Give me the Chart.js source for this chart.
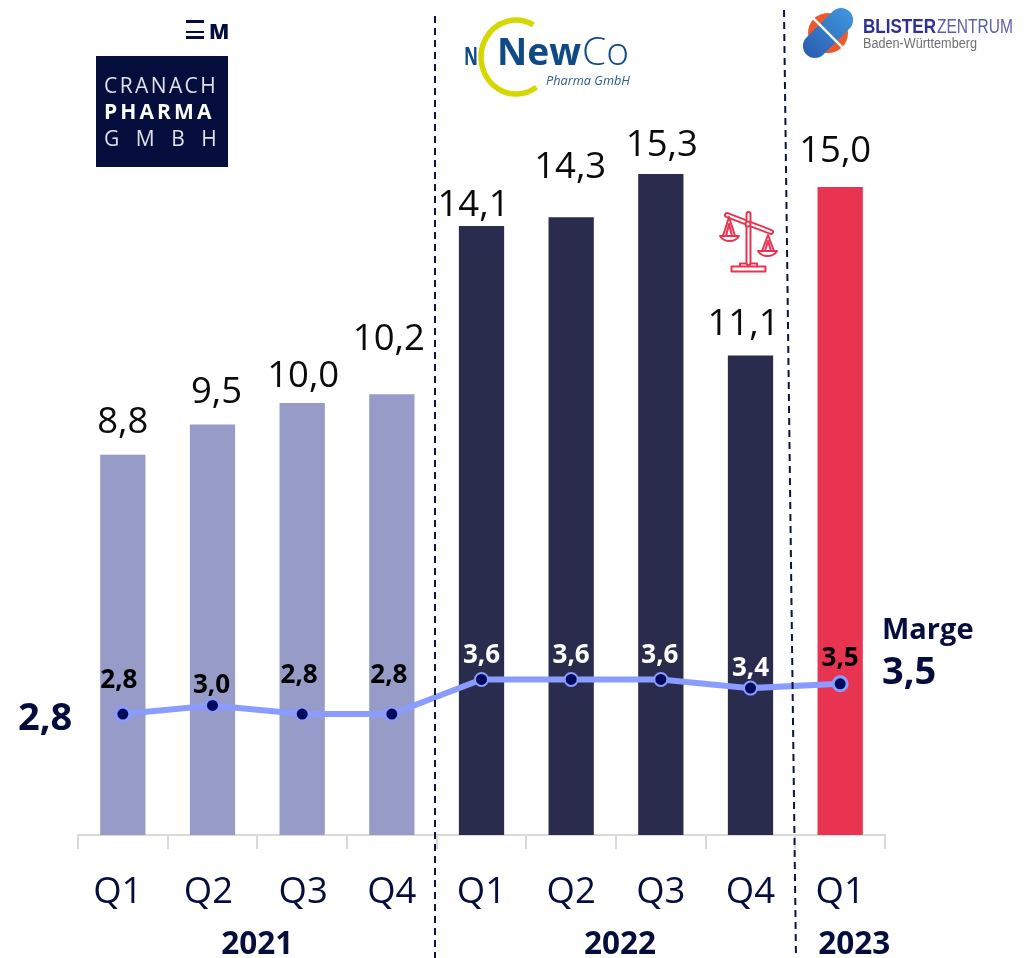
<!DOCTYPE html>
<html>
<head>
<meta charset="utf-8">
<style>html,body{margin:0;padding:0;background:#fff}canvas{display:block}</style>
<script src="https://cdn.jsdelivr.net/npm/chart.js@4"></script>
</head>
<body>
<canvas id="c" width="1025" height="958"></canvas>
<script>
const quarters = ['Q1','Q2','Q3','Q4','Q1','Q2','Q3','Q4','Q1'];
const revenue = [8.8,9.5,10.0,10.2,14.1,14.3,15.3,11.1,15.0];
const margin = [2.8,3.0,2.8,2.8,3.6,3.6,3.6,3.4,3.5];
const years = ['2021','2022','2023'];
const yearSpans = [[0,3],[4,7],[8,8]];

const NAVY='#050d3c', LIGHT='#969bc8', DARK='#2a2c4e', RED='#e83351', LINE='#8a9cff', DOT='#000a5c';
const barColors = [LIGHT,LIGHT,LIGHT,LIGHT,DARK,DARK,DARK,DARK,RED];
const marginLabelColors = ['#000','#000','#000','#000','#fff','#fff','#fff','#fff','#000'];
// label nudges in pixels relative to the scale position
const barNudge = [[0,-22],[4,-22],[1,-16],[-3,-44],[-8,-10],[-1,-39],[1,-18],[-7,-20],[-5,-25]];
const marginNudge = [[-4,-26],[-1,-12],[-3,-31],[-3,-31],[0,-16],[0,-16],[-1,-16],[0,-12],[0,-18]];
const tickNudge = [-5,-4,1,0,0,0,0,0,0];
const yearNudge = [0,4,14];

const fmt = v => v.toFixed(1).replace('.',',');
const OS = '"Open Sans"';

function text(ctx,s,x,y,font,color,align,spacing,maxW){
  ctx.font=font;ctx.fillStyle=color;ctx.textAlign=align||'center';ctx.textBaseline='alphabetic';
  ctx.letterSpacing=spacing||'0px';
  if(maxW)ctx.fillText(s,x,y,maxW);else ctx.fillText(s,x,y);
  ctx.letterSpacing='0px';
}
function dashed(ctx,x1,y1,x2,y2){
  ctx.save();ctx.strokeStyle='#0b1340';ctx.lineWidth=2;ctx.setLineDash([7,5]);
  ctx.beginPath();ctx.moveTo(x1,y1);ctx.lineTo(x2,y2);ctx.stroke();ctx.restore();
}
function drawCranach(ctx){
  ctx.fillStyle=NAVY;
  ctx.fillRect(186,20,18,3);ctx.fillRect(186,31,18,2);ctx.fillRect(186,36,18,3);
  text(ctx,'M',209,39,'800 21px '+OS,NAVY,'left');
  ctx.fillStyle=NAVY;ctx.fillRect(96,56,132,111);
  text(ctx,'CRANACH',104,93,'21px '+OS,'#dfe0e8','left','2.4px');
  text(ctx,'PHARMA',104,119,'bold 21px '+OS,'#ffffff','left','3.1px');
  text(ctx,'GMBH',104,146,'21px '+OS,'#dfe0e8','left','16.5px');
}
function drawNewCo(ctx){
  text(ctx,'N',464,65,'bold 25px '+OS,'#0f4a86','left','0px',14);
  ctx.strokeStyle='#d4d800';ctx.lineWidth=5.5;
  ctx.beginPath();ctx.ellipse(516,57,35,37,0,-1.05,0.95,true);ctx.stroke();
  text(ctx,'New',497,65,'bold 38px '+OS,'#0f4a86','left','0px',84);
  text(ctx,'Co',582,65,'300 39px '+OS,'#0f4a86','left','0px',47);
  text(ctx,'Pharma GmbH',546,85,'italic 13px '+OS,'#2f5f8f','left','0px',84);
}
function drawBlister(ctx){
  ctx.save();ctx.translate(828,33);
  ctx.fillStyle='#ea5a2a';ctx.beginPath();ctx.arc(0,0,20,0,Math.PI*2);ctx.fill();
  ctx.rotate(-Math.PI/4);
  const g=ctx.createLinearGradient(-30,0,30,0);g.addColorStop(0,'#2b5fb0');g.addColorStop(1,'#3f93dc');
  ctx.fillStyle=g;ctx.beginPath();ctx.roundRect(-30.5,-12,61,24,12);ctx.fill();
  ctx.fillStyle='#fff';ctx.fillRect(-1.2,-22,2.4,44);
  ctx.restore();
  text(ctx,'BLISTER',863,33,'bold 19.5px "Liberation Sans"','#2e3192','left','0px',73);
  text(ctx,'ZENTRUM',937,33,'19.5px "Liberation Sans"','#5a5fa8','left','0px',76);
  text(ctx,'Baden-Württemberg',863,48,'14px "Liberation Sans"','#707070','left','0px',114);
}
function drawScales(ctx){
  ctx.save();ctx.strokeStyle=RED;ctx.lineWidth=2;ctx.lineJoin='round';
  ctx.strokeRect(731.5,266.5,34,5);
  ctx.beginPath();ctx.moveTo(740,266);ctx.lineTo(740,263.5);ctx.lineTo(757,263.5);ctx.lineTo(757,266);ctx.stroke();
  ctx.lineCap='round';
  ctx.lineWidth=6;ctx.beginPath();ctx.moveTo(727,215);ctx.lineTo(771,232);ctx.moveTo(748.5,214);ctx.lineTo(748.5,263);ctx.stroke();
  ctx.strokeStyle='#fff';ctx.lineWidth=2;ctx.beginPath();ctx.moveTo(727,215);ctx.lineTo(771,232);ctx.moveTo(748.5,214);ctx.lineTo(748.5,263);ctx.stroke();
  ctx.strokeStyle=RED;ctx.lineWidth=2;ctx.fillStyle='#fff';
  ctx.beginPath();ctx.arc(748,224,2.5,0,Math.PI*2);ctx.fill();ctx.stroke();
  ctx.lineCap='butt';
  ctx.beginPath();ctx.moveTo(723,236);ctx.lineTo(729,217);ctx.lineTo(735,236);ctx.moveTo(726,236);ctx.lineTo(729,224);ctx.lineTo(732,236);ctx.stroke();
  ctx.beginPath();ctx.moveTo(720,236);ctx.lineTo(739,236);ctx.quadraticCurveTo(736,241,729.5,241);ctx.quadraticCurveTo(723,241,720,236);ctx.closePath();ctx.stroke();
  ctx.beginPath();ctx.moveTo(762,251);ctx.lineTo(768,235);ctx.lineTo(774,251);ctx.moveTo(765,251);ctx.lineTo(768,241);ctx.lineTo(771,251);ctx.stroke();
  ctx.beginPath();ctx.moveTo(758,251);ctx.lineTo(777,251);ctx.quadraticCurveTo(774,256,767.5,256);ctx.quadraticCurveTo(761,256,758,251);ctx.closePath();ctx.stroke();
  ctx.restore();
}
const overlay = {
  id:'overlay',
  afterDatasetsDraw(chart){
    const ctx=chart.ctx, x=chart.scales.x, y=chart.scales.y;
    ctx.save();
    revenue.forEach((v,i)=>text(ctx,fmt(v),x.getPixelForValue(i)+barNudge[i][0],y.getPixelForValue(v)+barNudge[i][1],'36.5px '+OS,'#0a0a0a'));
    margin.forEach((v,i)=>text(ctx,fmt(v),x.getPixelForValue(i)+marginNudge[i][0],y.getPixelForValue(v)+marginNudge[i][1],'bold 26px '+OS,marginLabelColors[i]));
    quarters.forEach((q,i)=>text(ctx,q,x.getPixelForValue(i)+tickNudge[i],903,'36.5px '+OS,NAVY));
    years.forEach((t,i)=>{
      const cx=(x.getPixelForValue(yearSpans[i][0])+x.getPixelForValue(yearSpans[i][1]))/2;
      text(ctx,t,cx+yearNudge[i],954,'bold 31.5px '+OS,NAVY);
    });
    text(ctx,'2,8',18,730,'bold 38px '+OS,NAVY,'left');
    text(ctx,'Marge',882,639,'bold 29px '+OS,NAVY,'left');
    text(ctx,'3,5',882,684,'bold 38px '+OS,NAVY,'left');
    dashed(ctx,435,16,435,958);
    dashed(ctx,784,10,796,958);
    drawCranach(ctx);drawNewCo(ctx);drawBlister(ctx);drawScales(ctx);
    ctx.restore();
  }
};
new Chart(document.getElementById('c'),{
  data:{labels:quarters.map((q,i)=>q+' '+i),datasets:[
    {type:'line',data:margin,order:0,borderColor:LINE,borderWidth:6,tension:0,
     pointBackgroundColor:DOT,pointBorderColor:LINE,
     pointRadius:margin.map((_,i)=>(i==8||i==0)?7:6.5),pointBorderWidth:margin.map((_,i)=>(i==8||i==0)?3:2),clip:false},
    {type:'bar',data:revenue,order:1,backgroundColor:barColors,barPercentage:0.505,categoryPercentage:1}
  ]},
  plugins:[overlay],
  options:{
    responsive:false,animation:false,events:[],
    layout:{padding:{left:78,right:140,top:0,bottom:0}},
    plugins:{legend:{display:false},tooltip:{enabled:false},title:{display:false}},
    scales:{
      x:{offset:true,grid:{offset:true,drawOnChartArea:false,drawTicks:true,tickLength:14,color:'#d9d9d9',lineWidth:2},
         border:{color:'#d9d9d9',width:2},ticks:{display:false},afterFit(s){s.height=123;}},
      y:{display:false,min:0,max:825/43.2}
    }
  }
});
</script>
</body>
</html>
